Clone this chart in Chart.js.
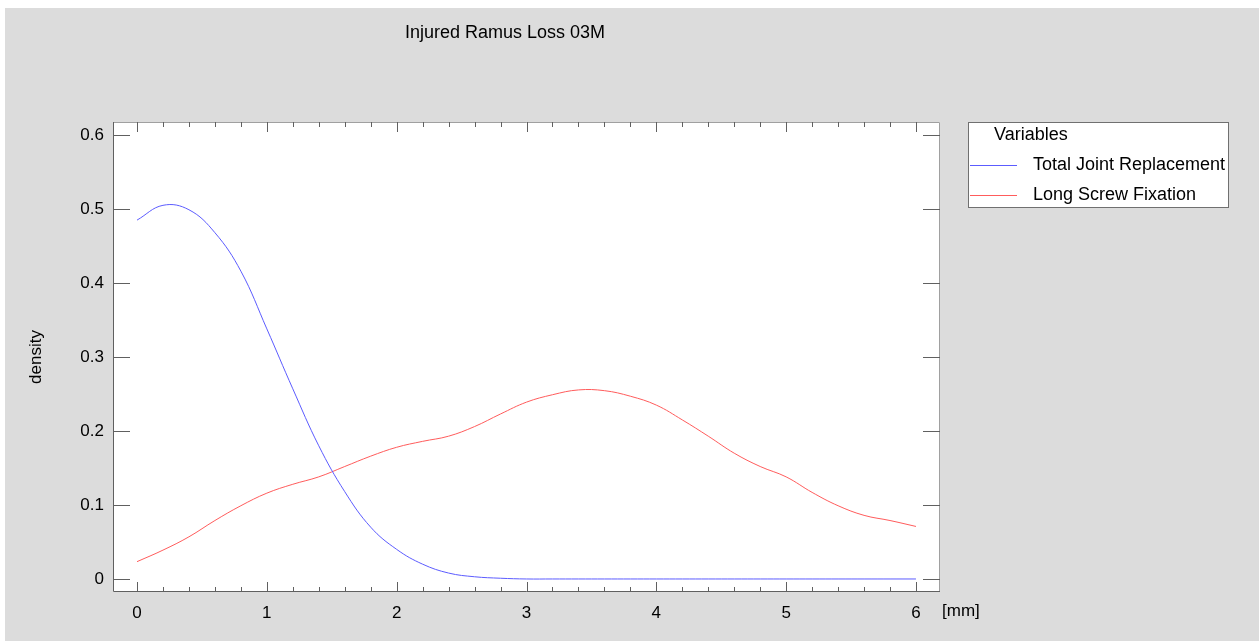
<!DOCTYPE html>
<html>
<head>
<meta charset="utf-8">
<script src="https://cdn.jsdelivr.net/npm/chart.js@4/dist/chart.umd.min.js"></script>
<style>
  html, body { margin: 0; padding: 0; background: #ffffff; overflow: hidden; }
  canvas { display: block; }
</style>
</head>
<body>
<canvas id="densityChart" width="1259" height="641"></canvas>
<script>
/**
 * Injured Ramus Loss 03M - density plot
 */

const chartTitle = 'Injured Ramus Loss 03M';
const yAxisTitle = 'density';
const xAxisUnit = '[mm]';
const legendTitle = 'Variables';
const seriesNames = ['Total Joint Replacement', 'Long Screw Fixation'];

const xTicks = [0, 1, 2, 3, 4, 5, 6];
const yTicks = [0, 0.1, 0.2, 0.3, 0.4, 0.5, 0.6];

// x grid shared by both curves (mm)
const xValues = [
    0, 0.2, 0.4, 0.6, 0.8, 1.0, 1.2, 1.4, 1.6, 1.8, 2.0,
    2.2, 2.4, 2.6, 2.8, 3.0, 3.2, 3.4, 3.6, 3.8, 4.0,
    4.2, 4.4, 4.6, 4.8, 5.0, 5.2, 5.4, 5.6, 5.8, 6.0
];

const totalJointDensity = [
    0.485, 0.505, 0.499, 0.468, 0.416, 0.338, 0.257, 0.180, 0.118, 0.070, 0.040,
    0.020, 0.008, 0.003, 0.001, 0, 0, 0, 0, 0, 0,
    0, 0, 0, 0, 0, 0, 0, 0, 0, 0
];

const longScrewDensity = [
    0.0234, 0.039, 0.057, 0.079, 0.099, 0.116, 0.128, 0.138, 0.152, 0.166, 0.178,
    0.186, 0.193, 0.206, 0.223, 0.239, 0.249, 0.2555, 0.2545, 0.247, 0.235,
    0.215, 0.193, 0.170, 0.152, 0.138, 0.117, 0.099, 0.086, 0.079, 0.071
];

const seriesColors = ['#5c5cff', '#ff5c5c'];
const FONT = '"Liberation Sans", Arial, sans-serif';

function toPoints(ys) {
    return xValues.map((x, i) => ({ x: x, y: ys[i] }));
}

/**
 * 背景・枠・目盛り・文字を描くプラグイン
 */
const decorPlugin = {
    id: 'decor',
    beforeDraw(chart) {
        const ctx = chart.ctx;
        const a = chart.chartArea;
        ctx.save();
        ctx.fillStyle = '#ffffff';
        ctx.fillRect(0, 0, chart.width, chart.height);
        ctx.fillStyle = '#dcdcdc';
        ctx.fillRect(5, 8, chart.width - 5, chart.height - 8);
        ctx.fillStyle = '#ffffff';
        ctx.fillRect(a.left, a.top, a.right - a.left, a.bottom - a.top);
        ctx.restore();
    },
    afterDatasetsDraw(chart) {
        const ctx = chart.ctx;
        const a = chart.chartArea;
        const xs = chart.scales.x;
        const ys = chart.scales.y;
        ctx.save();
        ctx.lineWidth = 1;

        // frame
        ctx.strokeStyle = '#a0a0a0';
        ctx.beginPath();
        ctx.moveTo(a.left, a.top + 0.5);
        ctx.lineTo(a.right - 0.5, a.top + 0.5);
        ctx.lineTo(a.right - 0.5, a.bottom);
        ctx.stroke();
        ctx.strokeStyle = '#606060';
        ctx.beginPath();
        ctx.moveTo(a.left + 0.5, a.top);
        ctx.lineTo(a.left + 0.5, a.bottom - 0.5);
        ctx.lineTo(a.right, a.bottom - 0.5);
        ctx.stroke();

        // x ticks (major every 1, minor every 0.2), bottom and top
        ctx.strokeStyle = '#606060';
        ctx.beginPath();
        for (let k = 0; k <= 30; k++) {
            const v = k / 5;
            const px = Math.round(xs.getPixelForValue(v)) + 0.5;
            const len = k % 5 === 0 ? 10 : 5;
            ctx.moveTo(px, a.bottom);
            ctx.lineTo(px, a.bottom - len);
            ctx.moveTo(px, a.top);
            ctx.lineTo(px, a.top + len);
        }
        // y ticks, left and right
        yTicks.forEach(v => {
            const py = Math.round(ys.getPixelForValue(v)) + 0.5;
            ctx.moveTo(a.left, py);
            ctx.lineTo(a.left + 17, py);
            ctx.moveTo(a.right, py);
            ctx.lineTo(a.right - 17, py);
        });
        ctx.stroke();
        ctx.restore();
    },
    afterDraw(chart) {
        const ctx = chart.ctx;
        const a = chart.chartArea;
        ctx.save();
        ctx.fillStyle = '#000000';
        ctx.textBaseline = 'middle';

        ctx.font = '18px ' + FONT;
        ctx.textAlign = 'center';
        ctx.fillText(chartTitle, 505, 33);

        ctx.font = '17px ' + FONT;
        ctx.textAlign = 'left';
        ctx.fillText(xAxisUnit, a.right + 2, 611);

        ctx.save();
        ctx.translate(36, 357);
        ctx.rotate(-Math.PI / 2);
        ctx.textAlign = 'center';
        ctx.fillText(yAxisTitle, 0, 0);
        ctx.restore();

        // legend box
        const lx = 968, ly = 122, lw = 261, lh = 86;
        ctx.fillStyle = '#ffffff';
        ctx.fillRect(lx, ly, lw, lh);
        ctx.strokeStyle = '#707070';
        ctx.lineWidth = 1;
        ctx.strokeRect(lx + 0.5, ly + 0.5, lw - 1, lh - 1);
        ctx.font = '18px ' + FONT;
        ctx.fillStyle = '#000000';
        ctx.textAlign = 'left';
        ctx.fillText(legendTitle, 994, 135);
        seriesNames.forEach((name, i) => {
            const y = 165 + i * 30;
            ctx.strokeStyle = seriesColors[i];
            ctx.beginPath();
            ctx.moveTo(970, y + 0.5);
            ctx.lineTo(1017, y + 0.5);
            ctx.stroke();
            ctx.fillStyle = '#000000';
            ctx.fillText(name, 1033, y);
        });
        ctx.restore();
    }
};

const canvas = document.getElementById('densityChart');
new Chart(canvas, {
    type: 'line',
    data: {
        datasets: [
            {
                label: seriesNames[0],
                data: toPoints(totalJointDensity),
                borderColor: seriesColors[0],
                borderWidth: 1,
                pointRadius: 0,
                fill: false,
                tension: 0.4
            },
            {
                label: seriesNames[1],
                data: toPoints(longScrewDensity),
                borderColor: seriesColors[1],
                borderWidth: 1,
                pointRadius: 0,
                fill: false,
                tension: 0.4
            }
        ]
    },
    options: {
        responsive: false,
        animation: false,
        events: [],
        layout: { padding: { top: 122, right: 319, left: 0, bottom: 0 } },
        plugins: {
            legend: { display: false },
            title: { display: false },
            tooltip: { enabled: false }
        },
        scales: {
            x: {
                type: 'linear',
                min: -0.185,
                max: 6.185,
                afterBuildTicks: s => { s.ticks = xTicks.map(v => ({ value: v })); },
                afterFit: s => { s.height = 49; },
                grid: { display: false, drawTicks: false },
                border: { display: false },
                ticks: {
                    color: '#000000',
                    padding: 11,
                    maxRotation: 0,
                    font: { family: FONT, size: 17 },
                    callback: v => String(v)
                }
            },
            y: {
                type: 'linear',
                min: -0.0176,
                max: 0.6176,
                afterBuildTicks: s => { s.ticks = yTicks.map(v => ({ value: v })); },
                afterFit: s => { s.width = 113; },
                grid: { display: false, drawTicks: false },
                border: { display: false },
                ticks: {
                    color: '#000000',
                    padding: 9,
                    font: { family: FONT, size: 17 },
                    callback: v => (v === 0 ? '0' : v.toFixed(1))
                }
            }
        }
    },
    plugins: [decorPlugin]
});
</script>
</body>
</html>
